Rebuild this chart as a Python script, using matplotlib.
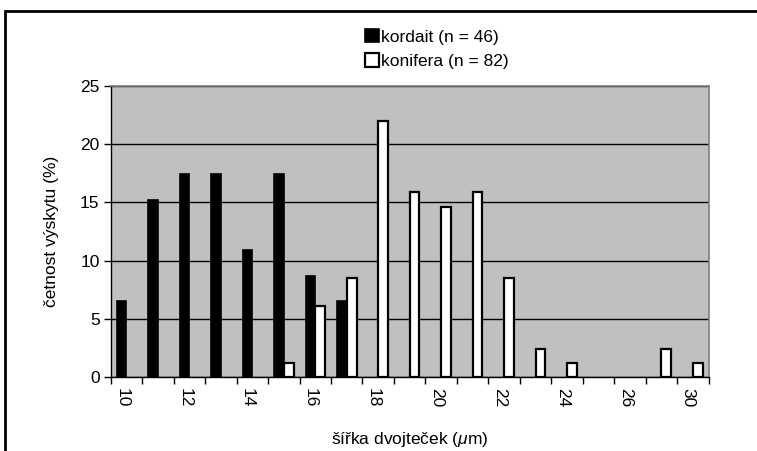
import numpy as np
import matplotlib
matplotlib.use("Agg")
import matplotlib.pyplot as plt
from matplotlib.patches import Rectangle

# data (percent of grains per width class)
categories = ["10", "11", "12", "13", "14", "15", "16", "17", "18", "19",
              "20", "21", "22", "23", "24", "25", "26", "28", "30"]
kordait = [6.5, 15.2, 17.4, 17.4, 10.9, 17.4, 8.7, 6.5, 0, 0,
           0, 0, 0, 0, 0, 0, 0, 0, 0]
konifera = [0, 0, 0, 0, 0, 1.2, 6.1, 8.5, 22.0, 15.9,
            14.6, 15.9, 8.5, 2.4, 1.2, 0, 0, 2.4, 1.2]
yticks = [0, 5, 10, 15, 20, 25]

plt.rcParams['font.family'] = ['Liberation Sans', 'DejaVu Sans']
plt.rcParams['mathtext.fontset'] = 'custom'
plt.rcParams['mathtext.it'] = 'Liberation Sans:italic'
plt.rcParams['mathtext.rm'] = 'Liberation Sans'

fig = plt.figure(figsize=(7.57, 4.51), dpi=100)
ax = fig.add_axes([110.7 / 757, 1 - 377 / 451, 598 / 757, 291 / 451])

x = np.arange(len(categories))
w = 0.31
# empty classes get no bar at all (Excel draws nothing for 0)
kord = np.where(np.array(kordait) > 0, kordait, np.nan)
koni = np.where(np.array(konifera) > 0, konifera, np.nan)

ax.set_facecolor('#c0c0c0')
ax.set_axisbelow(True)
ax.grid(axis='y', color='black', linewidth=1.0)

ax.bar(x - w / 2, kord, w, color='black', edgecolor='black', linewidth=1.2,
       label='kordait (n = 46)', zorder=3)
ax.bar(x + w / 2, koni, w, color='white', edgecolor='black', linewidth=1.6,
       label='konifera (n = 82)', zorder=3)

ax.set_xlim(-0.5, len(categories) - 0.5)
ax.set_ylim(0, 25)
ax.set_yticks(yticks)
ax.tick_params(axis='y', labelsize=12.5, length=5, width=1, direction='out', pad=3)

# tick marks on category borders, labels in the middle of every other class
ax.set_xticks(np.arange(len(categories) + 1) - 0.5)
ax.set_xticklabels([])
ax.set_xticks(x[::2] - 0.15, minor=True)
ax.set_xticklabels(categories[::2], minor=True, rotation=270, fontsize=12.5)
ax.tick_params(axis='x', which='major', length=5, width=1, direction='out')
ax.tick_params(axis='x', which='minor', length=0, pad=8)

for side in ['top', 'right']:
    ax.spines[side].set_color('#808080')
    ax.spines[side].set_linewidth(1.2)
for side in ['left', 'bottom']:
    ax.spines[side].set_color('black')
    ax.spines[side].set_linewidth(1.0)

ax.set_ylabel('četnost výskytu (%)', fontsize=12.5, labelpad=15)
ax.set_xlabel(r'šířka dvojteček ($\mu$m)', fontsize=12.5, labelpad=16)

leg = fig.legend(loc='upper left', bbox_to_anchor=(358 / 757, 1 - 22 / 451),
                 frameon=False, fontsize=12.5, handlelength=0.8, handleheight=0.8,
                 handletextpad=0.15, labelspacing=0.5, borderaxespad=0)

# outer chart frame (cut off at right and bottom like the original)
fig.patches.append(Rectangle((5 / 757, -0.1), 1.2, 1 - 11 / 451 + 0.1,
                             transform=fig.transFigure, fill=False,
                             edgecolor='black', linewidth=2))

plt.savefig('out.png', dpi=100, facecolor='white')
plt.close()
